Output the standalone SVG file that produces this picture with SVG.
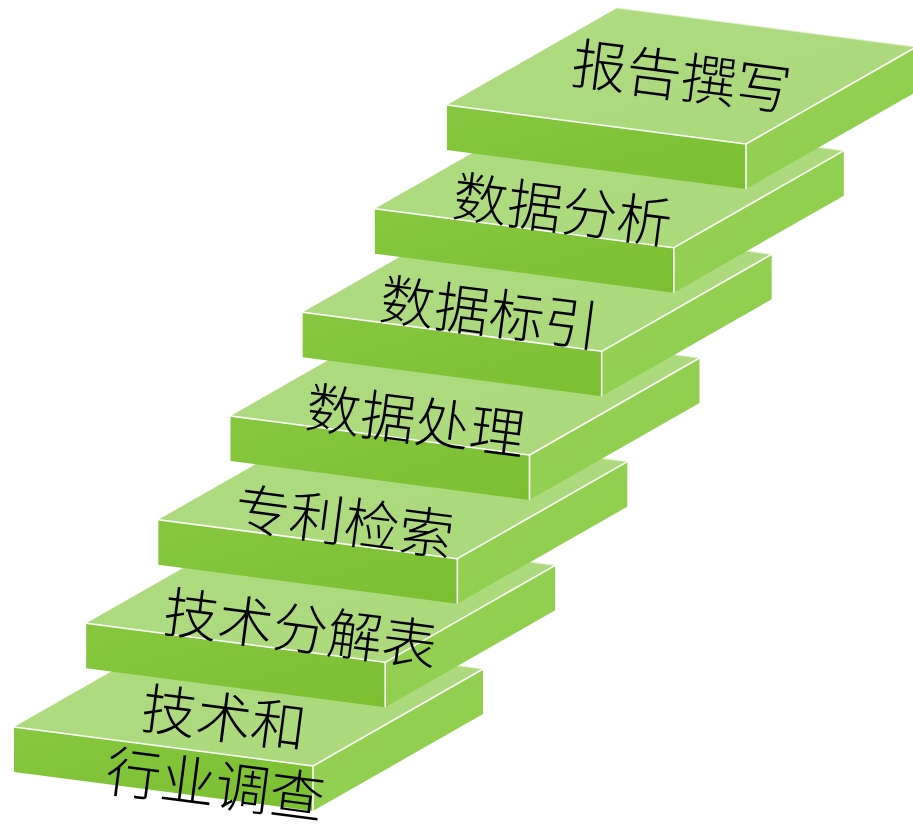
<svg xmlns="http://www.w3.org/2000/svg" xmlns:xlink="http://www.w3.org/1999/xlink" width="913" height="825" viewBox="0 0 913 825">
  <style>
    .lbl { font-family: "Noto Sans CJK SC", "Noto Sans CJK TC", sans-serif; font-size: 55px; font-weight: 300; fill: #000; text-anchor: middle; dominant-baseline: central; }
    .edge { fill: none; stroke: #ffffff; stroke-width: 1.6; stroke-linejoin: round; }
    .edge-soft { fill: none; stroke: #e4f3d2; stroke-width: 1.2; opacity: 0.8; }
  </style>
  <defs>
    <linearGradient id="gTop" x1="0" y1="0" x2="1" y2="1">
      <stop offset="0" stop-color="#b0dc83"/>
      <stop offset="1" stop-color="#aad879"/>
    </linearGradient>
    <linearGradient id="gFront" x1="0" y1="0" x2="1" y2="1">
      <stop offset="0" stop-color="#86c73f"/>
      <stop offset="1" stop-color="#7bbf31"/>
    </linearGradient>
    <linearGradient id="gSide" x1="0" y1="0" x2="1" y2="1">
      <stop offset="0" stop-color="#96d256"/>
      <stop offset="1" stop-color="#8ecd4b"/>
    </linearGradient>
    <!-- one step slab, front-left top corner at the origin:
         width (299,39), depth (170,-97), thickness 45 -->
    <g id="slab">
      <polygon points="0,0 299,39 469,-58 170,-97" fill="url(#gTop)"/>
      <polygon points="0,0 299,39 299,84 0,45" fill="url(#gFront)"/>
      <polygon points="299,39 469,-58 469,-13 299,84" fill="url(#gSide)"/>
      <polyline class="edge-soft" points="170,-97 469,-58"/>
      <polyline class="edge" points="0,0 299,39 469,-58"/>
      <line class="edge" x1="299" y1="39" x2="299" y2="84"/>
    </g>
  </defs>

  <g id="step1">
    <use xlink:href="#slab" transform="translate(14,727)"/>
    <text class="lbl" transform="translate(220,749) rotate(7.43)"><tspan x="0" y="-35">技术和</tspan><tspan x="0" y="32">行业调查</tspan></text>
  </g>
  <g id="step2">
    <use xlink:href="#slab" transform="translate(86.17,623.33)"/>
    <text class="lbl" transform="translate(301,625) rotate(7.43)">技术分解表</text>
  </g>
  <g id="step3">
    <use xlink:href="#slab" transform="translate(158.33,519.67)"/>
    <text class="lbl" transform="translate(345,518) rotate(7.43)">专利检索</text>
  </g>
  <g id="step4">
    <use xlink:href="#slab" transform="translate(230.5,416)"/>
    <text class="lbl" transform="translate(416,417) rotate(7.43)">数据处理</text>
  </g>
  <g id="step5">
    <use xlink:href="#slab" transform="translate(302.67,312.33)"/>
    <text class="lbl" transform="translate(490,309) rotate(7.43)">数据标引</text>
  </g>
  <g id="step6">
    <use xlink:href="#slab" transform="translate(374.83,208.67)"/>
    <text class="lbl" transform="translate(563,206) rotate(7.43)">数据分析</text>
  </g>
  <g id="step7">
    <use xlink:href="#slab" transform="translate(447,105)"/>
    <text class="lbl" transform="translate(682,73) rotate(7.43)">报告撰写</text>
  </g>
  <g id="connectors"/>
</svg>
